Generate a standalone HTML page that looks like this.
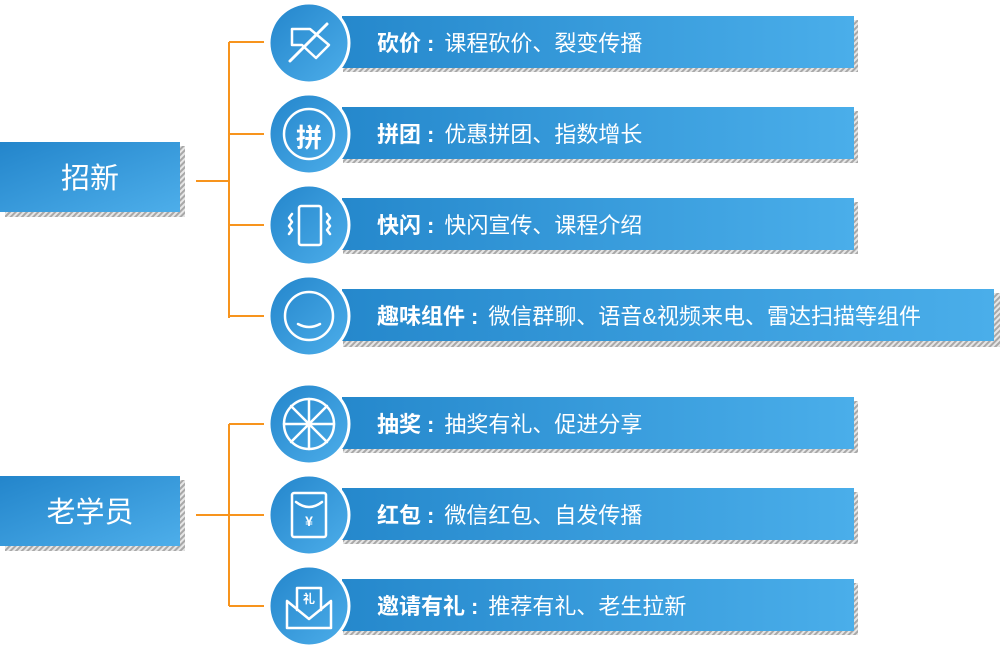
<!DOCTYPE html>
<html><head><meta charset="utf-8"><style>
body{margin:0;width:1000px;height:649px;background:#fff;overflow:hidden}
svg text{font-family:"Liberation Sans","Noto Sans CJK SC",sans-serif;fill:#fff}
</style></head><body>
<svg width="1000" height="649" viewBox="0 0 1000 649" xmlns="http://www.w3.org/2000/svg">
<defs>
<pattern id="h" width="4" height="4" patternUnits="userSpaceOnUse" patternTransform="rotate(45)">
<rect width="4" height="4" fill="#e6e6e6"/><rect width="2" height="4" fill="#a8a8a8"/></pattern>
<linearGradient id="g" x1="0" y1="0" x2="1" y2="0"><stop offset="0" stop-color="#2588cc"/><stop offset="1" stop-color="#4aaeea"/></linearGradient>
<linearGradient id="gc" x1="0" y1="0" x2="1" y2="1"><stop offset="0" stop-color="#2385cb"/><stop offset="1" stop-color="#4daeea"/></linearGradient>
</defs>
<rect x="5" y="146" width="180" height="71" fill="url(#h)"/>
<rect x="0" y="142" width="180" height="70" fill="url(#gc)"/>
<text x="90" y="188" font-size="29" text-anchor="middle">招新</text>
<rect x="5" y="480" width="180" height="71" fill="url(#h)"/>
<rect x="0" y="476" width="180" height="70" fill="url(#gc)"/>
<text x="90" y="522" font-size="29" text-anchor="middle">老学员</text>
<g stroke="#f7941d" stroke-width="2" fill="none">
<path d="M196 181H229M229 42V318M229 42H264M229 134H264M229 225H264M229 316H264"/>
<path d="M196 515H229M229 424V606M229 424H264M229 515H264M229 606H264"/>
</g>
<g>
<rect x="343" y="20" width="515" height="52" fill="url(#h)"/><rect x="342" y="16" width="512" height="52" fill="url(#g)"/>
<rect x="343" y="111" width="515" height="52" fill="url(#h)"/><rect x="342" y="107" width="512" height="52" fill="url(#g)"/>
<rect x="343" y="202" width="515" height="52" fill="url(#h)"/><rect x="342" y="198" width="512" height="52" fill="url(#g)"/>
<rect x="343" y="293" width="657" height="54" fill="url(#h)"/><rect x="342" y="289" width="652" height="52" fill="url(#g)"/>
<rect x="343" y="401" width="515" height="52" fill="url(#h)"/><rect x="342" y="397" width="512" height="52" fill="url(#g)"/>
<rect x="343" y="492" width="515" height="52" fill="url(#h)"/><rect x="342" y="488" width="512" height="52" fill="url(#g)"/>
<rect x="343" y="583" width="515" height="52" fill="url(#h)"/><rect x="342" y="579" width="512" height="52" fill="url(#g)"/>
</g>
<g stroke="#fff" stroke-width="3" fill="url(#gc)">
<circle cx="309" cy="43" r="40"/><circle cx="309" cy="134" r="40"/><circle cx="309" cy="225" r="40"/><circle cx="309" cy="316" r="40"/>
<circle cx="309" cy="424" r="40"/><circle cx="309" cy="515" r="40"/><circle cx="309" cy="606" r="40"/>
</g>
<g stroke="#fff" stroke-width="2.5" fill="none" stroke-linecap="round" stroke-linejoin="round">
<path d="M292 29H310L329 45L316 58L302 45H292Z"/><path d="M290 61L327 24" stroke-width="3"/>
<circle cx="309" cy="134" r="25"/>
<rect x="299" y="206" width="22" height="39" rx="2"/><path d="M292 214l-3 4 3 4-3 4 3 4-3 4M327 214l3 4-3 4 3 4-3 4 3 4"/>
<circle cx="309" cy="316" r="24"/><path d="M298 324q11 6 22 0"/>
<circle cx="309" cy="424" r="25"/><path d="M309 399V449M284 424H334M291 406L327 442M327 406L291 442"/>
<rect x="292" y="493" width="34" height="44" rx="2"/><path d="M296 502q13 10 26 0"/>
<path d="M287 601V628H331V601M287 601L309 619L331 601M297 610V588H321V610"/>
</g>
<text x="309" y="147" font-size="26" font-weight="bold" text-anchor="middle">拼</text>
<text x="309" y="526" font-size="14" font-weight="bold" text-anchor="middle">¥</text>
<text x="309" y="603" font-size="12" font-weight="bold" text-anchor="middle">礼</text>
<g font-size="22">
<text x="377" y="51"><tspan font-weight="bold">砍价</tspan><tspan font-weight="bold" dx="6">:</tspan><tspan dx="10">课程砍价、裂变传播</tspan></text>
<text x="377" y="142"><tspan font-weight="bold">拼团</tspan><tspan font-weight="bold" dx="6">:</tspan><tspan dx="10">优惠拼团、指数增长</tspan></text>
<text x="377" y="233"><tspan font-weight="bold">快闪</tspan><tspan font-weight="bold" dx="6">:</tspan><tspan dx="10">快闪宣传、课程介绍</tspan></text>
<text x="377" y="324"><tspan font-weight="bold">趣味组件</tspan><tspan font-weight="bold" dx="6">:</tspan><tspan dx="10">微信群聊、语音&amp;视频来电、雷达扫描等组件</tspan></text>
<text x="377" y="432"><tspan font-weight="bold">抽奖</tspan><tspan font-weight="bold" dx="6">:</tspan><tspan dx="10">抽奖有礼、促进分享</tspan></text>
<text x="377" y="523"><tspan font-weight="bold">红包</tspan><tspan font-weight="bold" dx="6">:</tspan><tspan dx="10">微信红包、自发传播</tspan></text>
<text x="377" y="614"><tspan font-weight="bold">邀请有礼</tspan><tspan font-weight="bold" dx="6">:</tspan><tspan dx="10">推荐有礼、老生拉新</tspan></text>
</g>
</svg>
</body></html>
